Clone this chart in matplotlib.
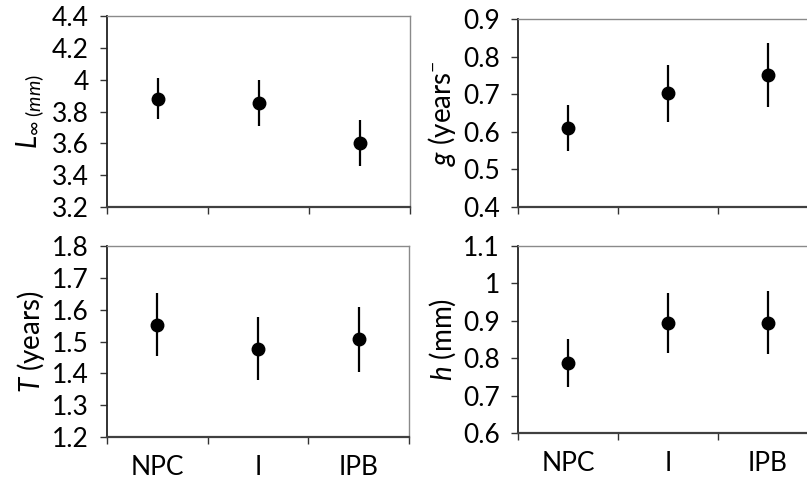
import numpy as np
import matplotlib
matplotlib.use("Agg")
import matplotlib.pyplot as plt

plt.rcParams['font.family'] = ['Lato', 'DejaVu Sans']
plt.rcParams['mathtext.fontset'] = 'custom'
plt.rcParams['mathtext.rm'] = 'Lato'
plt.rcParams['mathtext.it'] = 'Lato:italic'
plt.rcParams['mathtext.bf'] = 'Lato:bold'

groups = ["NPC", "I", "IPB"]

# L infinity (mm)
linf_mean = [3.88, 3.855, 3.60]
linf_err = [0.13, 0.145, 0.145]
# g (years^-1)
g_mean = [0.61, 0.702, 0.751]
g_err = [0.06, 0.076, 0.084]
# T (years)
t_mean = [1.553, 1.477, 1.507]
t_err = [0.098, 0.099, 0.102]
# h (mm)
h_mean = [0.787, 0.895, 0.895]
h_err = [0.065, 0.08, 0.085]

panels = [
    # (values, errors, ylim, yticks, tick labels, ylabel, rect, show x labels)
    (linf_mean, linf_err, (3.2, 4.4), [3.2, 3.4, 3.6, 3.8, 4.0, 4.2, 4.4],
     ["3.2", "3.4", "3.6", "3.8", "4", "4.2", "4.4"],
     r"$L_{\infty\ (mm)}$", [0.1326, 0.5678, 0.3755, 0.3987], False),
    (g_mean, g_err, (0.4, 0.9), [0.4, 0.5, 0.6, 0.7, 0.8, 0.9],
     ["0.4", "0.5", "0.6", "0.7", "0.8", "0.9"],
     r"$g$ (years$^{-}$", [0.6419, 0.5678, 0.3717, 0.3925], False),
    (t_mean, t_err, (1.2, 1.8), [1.2, 1.3, 1.4, 1.5, 1.6, 1.7, 1.8],
     ["1.2", "1.3", "1.4", "1.5", "1.6", "1.7", "1.8"],
     r"$T$ (years)", [0.1326, 0.0877, 0.3743, 0.3987], True),
    (h_mean, h_err, (0.6, 1.1), [0.6, 0.7, 0.8, 0.9, 1.0, 1.1],
     ["0.6", "0.7", "0.8", "0.9", "1", "1.1"],
     r"$h$ (mm)", [0.6419, 0.096, 0.3717, 0.3904], True),
]

fig = plt.figure(figsize=(8.07, 4.79), dpi=100)
x = np.arange(len(groups))

for vals, errs, ylim, yt, ytl, ylab, rect, showx in panels:
    ax = fig.add_axes(rect)
    ax.errorbar(x, vals, yerr=errs, fmt='o', color='black', ms=9,
                elinewidth=1.6, capsize=0, zorder=3, clip_on=False)
    ax.set_xlim(-0.5, 2.5)
    ax.set_ylim(*ylim)
    ax.set_yticks(yt)
    ax.set_yticklabels(ytl)
    ax.set_xticks([-0.5, 0.5, 1.5, 2.5])
    ax.set_xticklabels([])
    if showx:
        ax.set_xticks(x, minor=True)
        ax.set_xticklabels(groups, minor=True)
    ax.tick_params(axis='x', which='minor', length=0, pad=13, labelsize=19)
    ax.tick_params(axis='both', which='major', direction='out', length=5,
                   width=1, color='#333333', labelsize=19, pad=8)
    for s in ['top', 'right']:
        ax.spines[s].set_color('#8a8a8a')
        ax.spines[s].set_linewidth(1.0)
    ax.spines['left'].set_color('#222222')
    ax.spines['left'].set_linewidth(1.3)
    ax.spines['bottom'].set_color('#404040')
    ax.spines['bottom'].set_linewidth(1.6)
    ax.set_ylabel(ylab, fontsize=20, labelpad=4)

fig.savefig("out.png", dpi=100)
